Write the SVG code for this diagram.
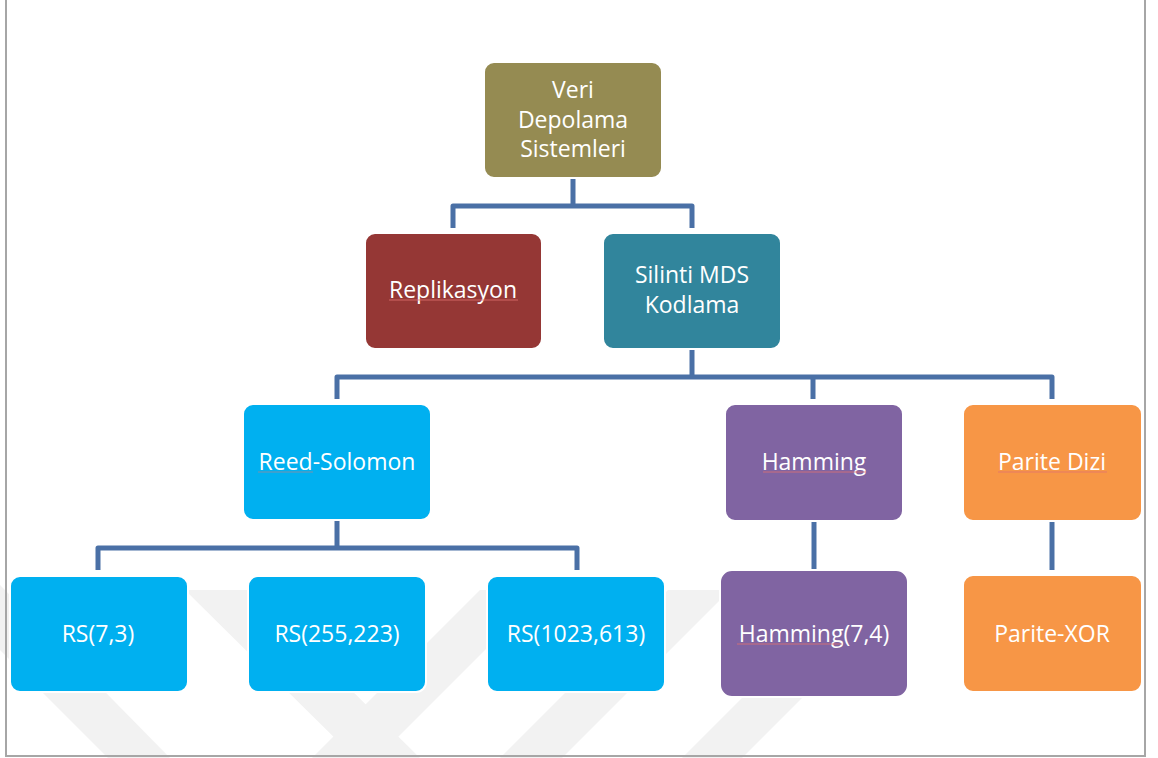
<svg xmlns="http://www.w3.org/2000/svg" width="1158" height="758" viewBox="0 0 1158 758">
<style>
.box{stroke:#ffffff;stroke-width:2}
.t{font-family:"Open Sans","Noto Sans",sans-serif;font-size:23px;fill:#ffffff;text-anchor:middle}
.conn{fill:none;stroke:#4a70a6;stroke-width:5;stroke-linejoin:round}
.sq{stroke:#e07070;stroke-width:1;fill:none;opacity:0.8}
.wm{fill:#f2f2f2}
</style>
<rect x="0" y="0" width="1158" height="758" fill="#ffffff"/>
<g id="watermark">
<polygon class="wm" points="0,585 0,650 108,758 170,758"/>
<polygon class="wm" points="185,590 250,590 420,758 355,758"/>
<polygon class="wm" points="480,590 545,590 377,758 312,758"/>
<polygon class="wm" points="668,590 730,590 562,758 500,758"/>
<polygon class="wm" points="790,650 850,650 742,758 682,758"/>
</g>
<g id="frame" fill="none" stroke="#a6a6a6" stroke-width="2">
<polyline points="6,0 6,756 1145,756 1145,0"/>
</g>
<g id="connectors" class="conn">
<path d="M573,179 V206 M453,228 V206 H692 V228"/>
<path d="M692,350 V377 M337,399 V377 H1052 V399 M813,377 V399"/>
<path d="M337,521 V548 M98,570 V548 H577 V570"/>
<path d="M814,521 V570"/>
<path d="M1052,521 V570"/>
</g>
<g id="n-veri">
<rect class="box" x="484" y="62" width="178" height="116" rx="10" fill="#958b52"/>
<text class="t" x="573" y="98">Veri</text>
<text class="t" x="573" y="128">Depolama</text>
<text class="t" x="573" y="157">Sistemleri</text>
</g>
<g id="n-replikasyon">
<rect class="box" x="365" y="233" width="177" height="116" rx="10" fill="#953735"/>
<text class="t" x="453" y="298">Replikasyon</text>
<line class="sq" x1="389" y1="300" x2="518" y2="300"/>
</g>
<g id="n-silinti">
<rect class="box" x="603" y="233" width="178" height="116" rx="10" fill="#31859c"/>
<text class="t" x="692" y="283">Silinti MDS</text>
<text class="t" x="692" y="313">Kodlama</text>
</g>
<g id="n-reed">
<rect class="box" x="243" y="404" width="188" height="116" rx="10" fill="#00b0f0"/>
<text class="t" x="337" y="470">Reed-Solomon</text>
<line stroke="#7f8fa9" stroke-width="1" x1="258" y1="472" x2="313" y2="472"/>
</g>
<g id="n-hamming">
<rect class="box" x="725" y="404" width="178" height="117" rx="10" fill="#8064a2"/>
<text class="t" x="814" y="470">Hamming</text>
<line class="sq" x1="763" y1="472" x2="866" y2="472"/>
</g>
<g id="n-parite">
<rect class="box" x="963" y="404" width="179" height="117" rx="10" fill="#f79646"/>
<text class="t" x="1052" y="470">Parite Dizi</text>
<line class="sq" x1="998" y1="472" x2="1107" y2="472"/>
</g>
<g id="n-rs73">
<rect class="box" x="10" y="576" width="178" height="116" rx="10" fill="#00b0f0"/>
<text class="t" x="98" y="642">RS(7,3)</text>
</g>
<g id="n-rs255">
<rect class="box" x="248" y="576" width="178" height="116" rx="10" fill="#00b0f0"/>
<text class="t" x="337" y="642">RS(255,223)</text>
</g>
<g id="n-rs1023">
<rect class="box" x="487" y="576" width="178" height="116" rx="10" fill="#00b0f0"/>
<text class="t" x="576" y="642">RS(1023,613)</text>
</g>
<g id="n-hamming74">
<rect class="box" x="720" y="570" width="188" height="127" rx="12" fill="#8064a2"/>
<text class="t" x="814" y="642">Hamming(7,4)</text>
<line class="sq" x1="737" y1="644" x2="842" y2="644"/>
</g>
<g id="n-xor">
<rect class="box" x="963" y="575" width="179" height="117" rx="10" fill="#f79646"/>
<text class="t" x="1052" y="642">Parite-XOR</text>
</g>
</svg>
